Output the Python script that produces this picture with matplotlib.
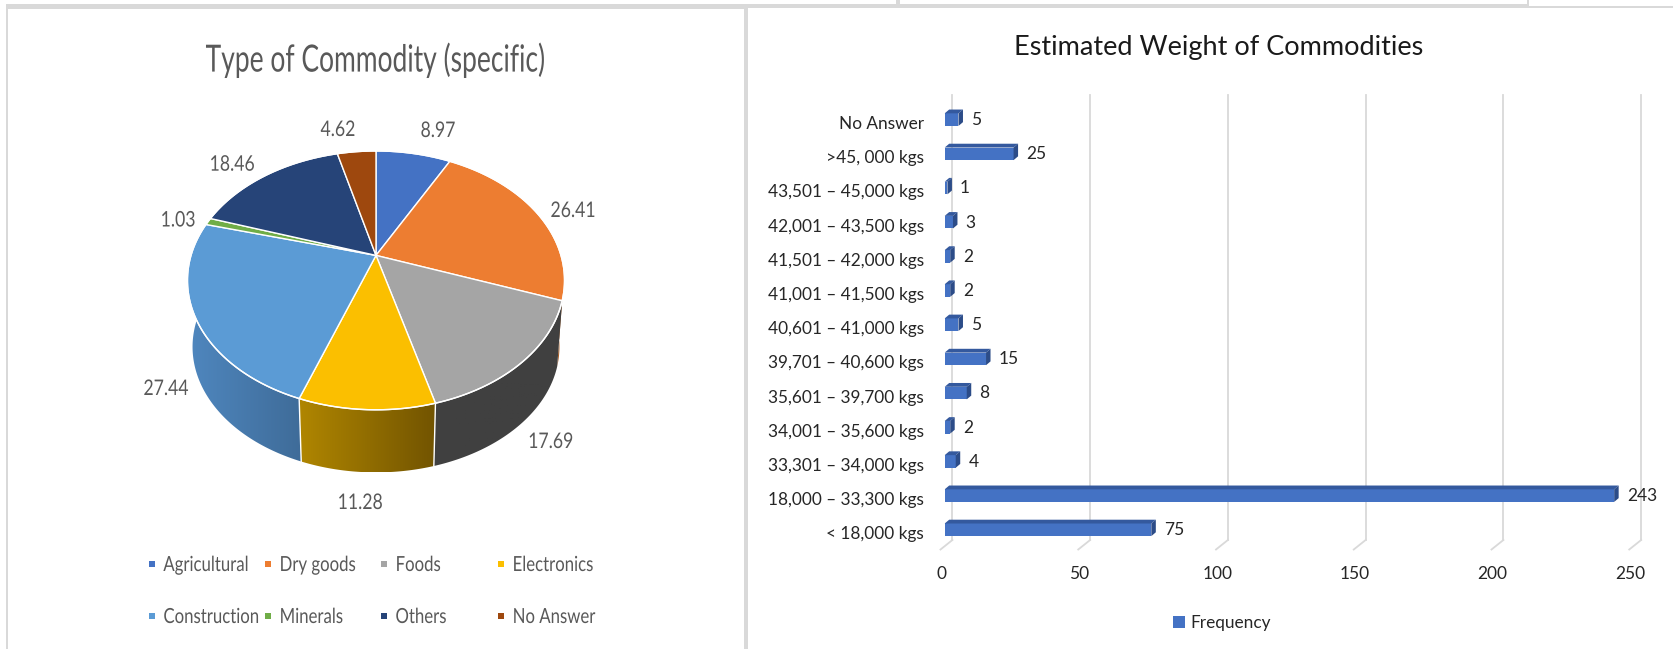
import numpy as np
import matplotlib
matplotlib.use("Agg")
import matplotlib.pyplot as plt
from matplotlib.colors import LinearSegmentedColormap
from matplotlib.patches import Polygon, Rectangle, Patch
from matplotlib.patheffects import AbstractPathEffect
from matplotlib.transforms import Affine2D

# ---- data ----
commodity_names = ["Agricultural", "Dry goods", "Foods", "Electronics",
                   "Construction", "Minerals", "Others", "No Answer"]
commodity_values = [8.97, 26.41, 17.69, 11.28, 27.44, 1.03, 18.46, 4.62]
commodity_colors = ["#4472C4", "#ED7D31", "#A5A5A5", "#FBBF00",
                    "#5B9BD5", "#70AD47", "#264478", "#9E480E"]

weight_names = ["< 18,000 kgs", "18,000 – 33,300 kgs", "33,301 – 34,000 kgs",
                "34,001 – 35,600 kgs", "35,601 – 39,700 kgs", "39,701 – 40,600 kgs",
                "40,601 – 41,000 kgs", "41,001 – 41,500 kgs", "41,501 – 42,000 kgs",
                "42,001 – 43,500 kgs", "43,501 – 45,000 kgs", ">45, 000 kgs", "No Answer"]
weight_values = [75, 243, 4, 2, 8, 15, 5, 2, 2, 3, 1, 25, 5]
weight_ticks = [0, 50, 100, 150, 200, 250]

# ---- layout ----
W, H_FIG = 1673, 649
LATO = ["Lato", "DejaVu Sans"]
GRAY = "#595959"
LINE = "#D9D9D9"


class Squeeze(AbstractPathEffect):
    """Draw a text condensed horizontally about its centre."""

    def __init__(self, sx):
        super().__init__()
        self.sx = sx

    def draw_path(self, renderer, gc, tpath, affine, rgbFace=None):
        ext = tpath.get_extents()
        mid = (ext.x0 + ext.x1) / 2
        tr = Affine2D().translate(-mid, 0).scale(self.sx, 1).translate(mid, 0)
        renderer.draw_path(gc, tpath, tr + affine, rgbFace)


fig = plt.figure(figsize=(W / 100, H_FIG / 100), dpi=100, facecolor="white")
bg = fig.add_axes([0, 0, 1, 1])
bg.set_xlim(0, W)
bg.set_ylim(H_FIG, 0)
bg.axis("off")

# panel frame
for x, y, w, h in [(6, 3.5, 720, 5), (6, 3.5, 2.5, H_FIG), (726, 3.5, 803, 4),
                   (726, 7, 20, 2), (744, 6, 4, H_FIG), (896, 0, 4, 4),
                   (1527, 0, 2, 4), (1529, 6, 144, 1.7)]:
    bg.add_patch(Rectangle((x, y), w, h, fc=LINE, ec="none", zorder=1))

# ---- perspective pie ----
CX = 376.0
K = 0.193
TOP = dict(y0=255.4, h=124.6, r=185.0)
LOW = dict(y0=322.6, h=120.9, r=180.0)


def rim(theta, y0, h, r):
    t = np.radians(theta)
    u, v = np.sin(t), np.cos(t)
    d = 1 + K * v
    return CX + r * u / d, y0 - h * v / d


edges = np.concatenate([[0], np.cumsum(commodity_values)]) / np.sum(commodity_values) * 360

wall_shades = {1: ("#A85C22", "#A85C22"), 2: ("#404040", "#404040"),
               3: ("#B08600", "#725400"), 4: ("#4F87BF", "#3F6C99")}
for i, (c0, c1) in wall_shades.items():
    a, b = max(edges[i], 85), min(edges[i + 1], 275)
    th = np.linspace(a, b, 80)
    xt, yt = rim(th, **TOP)
    xl, yl = rim(th, **LOW)
    xs = np.concatenate([xt, xl[::-1]])
    ys = np.concatenate([yt, yl[::-1]])
    poly = Polygon(np.column_stack([xs, ys]), closed=True, transform=bg.transData,
                   fc="none", ec="none")
    bg.add_patch(poly)
    cmap = LinearSegmentedColormap.from_list("w", [c0, c1])
    g = np.linspace(0, 1, 128).reshape(1, -1)
    im = bg.imshow(g, extent=[xs.min(), xs.max(), ys.max(), ys.min()], cmap=cmap,
                   aspect="auto", zorder=2)
    im.set_clip_path(poly)
    if i in (2, 3):
        xa, ya = rim(edges[i + 1], **TOP)
        xb, yb = rim(edges[i + 1], **LOW)
        bg.plot([xa, xb], [ya, yb], color="white", lw=1.0, zorder=3)
bg.set_xlim(0, W)
bg.set_ylim(H_FIG, 0)

for i, color in enumerate(commodity_colors):
    th = np.linspace(edges[i], edges[i + 1], 80)
    x, y = rim(th, **TOP)
    pts = np.column_stack([np.r_[CX, x], np.r_[TOP["y0"], y]])
    bg.add_patch(Polygon(pts, closed=True, fc=color, ec="white", lw=1.0, zorder=4,
                         joinstyle="round"))
th = np.linspace(0, 360, 400)
bg.plot(*rim(th, **TOP), color="white", lw=1.0, zorder=5)

pie_label_pos = [(438, 131), (573, 211), (550.7, 442), (360, 503),
                 (166, 389), (178, 220.5), (232, 164.7), (338, 130)]
for v, (x, y) in zip(commodity_values, pie_label_pos):
    bg.text(x, y, f"{v:.2f}", ha="center", va="center", family=LATO,
            fontsize=15.5, color=GRAY, zorder=6, path_effects=[Squeeze(0.82)])

bg.text(375.6, 60, "Type of Commodity (specific)", ha="center", va="center",
        family=LATO, fontsize=27, color=GRAY, path_effects=[Squeeze(0.705)])

col_x = [152, 268, 384, 501]
row_y = [564, 616]
LEG_SX = 0.805
renderer = fig.canvas.get_renderer()
for i, (name, color) in enumerate(zip(commodity_names, commodity_colors)):
    x, y = col_x[i % 4], row_y[i // 4]
    bg.add_patch(Rectangle((x - 3, y - 3), 6, 6, fc=color, ec="none"))
    txt = bg.text(x + 11.5, y + 1, name, ha="center", va="center", family=LATO,
                  fontsize=15, color=GRAY, path_effects=[Squeeze(LEG_SX)])
    txt.set_x(x + 11.5 + LEG_SX * txt.get_window_extent(renderer).width / 2)

# ---- 3-D look horizontal bars ----
PX = 2.755            # pixels per unit
X0 = 944.7            # pixel of value 0 on the front face
ROW = 34.18           # pixels per category
Y0 = 529.8            # pixel of first category centre
X_MIN = -2.0
P_LEFT = X0 + X_MIN * PX
P_TOP, P_BOT = 90.0, 555.0
ax = fig.add_axes([P_LEFT / W, 1 - P_BOT / H_FIG, (W - P_LEFT) / W, (P_BOT - P_TOP) / H_FIG])
ax.patch.set_alpha(0)
for s in ax.spines.values():
    s.set_visible(False)

pos = np.arange(len(weight_values))
BAR_H = 12.6 / ROW
DX, DY = 4.5 / PX, 3.8 / ROW
ax.barh(pos, weight_values, height=BAR_H, color="#4472C4", zorder=3)
for p, v in zip(pos, weight_values):
    t, b = p + BAR_H / 2, p - BAR_H / 2
    ax.add_patch(Polygon([(0, t), (DX, t + DY), (v + DX, t + DY), (v, t)],
                         fc="#34599E", ec="none", zorder=3))
    ax.add_patch(Polygon([(v, t), (v + DX, t + DY), (v + DX, b + DY), (v, b)],
                         fc="#2C4C88", ec="none", zorder=3))
    ax.text(v + 12.6 / PX, p - 0.4 / ROW, str(v), ha="left", va="center", family=LATO,
            fontsize=12.5, color="#262626", zorder=4)

# gridlines on the back wall with their floor returns
grid_top = (Y0 - 95) / ROW
grid_bot = (Y0 - 540) / ROW
floor_y = (Y0 - 549.5) / ROW
for t in weight_ticks:
    ax.plot([t + 7.7 / PX] * 2, [grid_top, grid_bot], color=LINE, lw=1.3, zorder=1)
    ax.plot([t + 7.7 / PX, t - 4.2 / PX], [grid_bot, floor_y], color=LINE, lw=1.3, zorder=1)

ax.set_xticks(np.array(weight_ticks) - 3.0 / PX, labels=[str(t) for t in weight_ticks],
              family=LATO, fontsize=12.5, color="#262626")
ax.set_yticks(pos - 3 / ROW, labels=weight_names, family=LATO, fontsize=12.4, color="#262626")
ax.set_xlim(X_MIN, (W - X0) / PX)
ax.set_ylim((Y0 - P_BOT) / ROW, (Y0 - P_TOP) / ROW)
ax.tick_params(axis="both", length=0)
ax.tick_params(axis="x", pad=8)
ax.tick_params(axis="y", pad=11)

ax.legend(handles=[Patch(fc="#4472C4", label="Frequency")], loc="center",
          bbox_to_anchor=(1222 / W, 1 - 623 / H_FIG), bbox_transform=fig.transFigure,
          frameon=False, prop={"family": LATO, "size": 12.4}, labelcolor="#262626",
          handlelength=0.7, handleheight=0.7, handletextpad=0.3)

bg.text(1219, 47.5, "Estimated Weight of Commodities", ha="center", va="center",
        family=LATO, fontsize=19.5, color="#1a1a1a")

fig.savefig("out.png", dpi=100, facecolor="white")
